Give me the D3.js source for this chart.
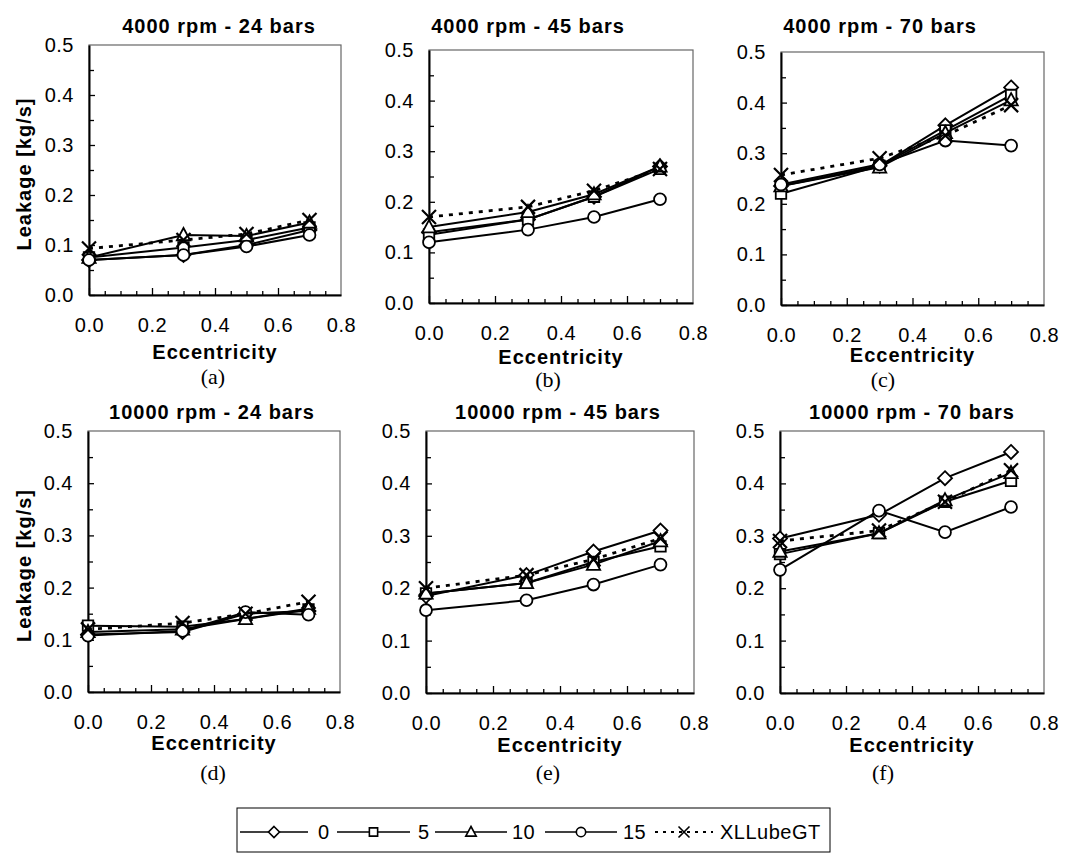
<!DOCTYPE html>
<html>
<head>
<meta charset="utf-8">
<script src="https://d3js.org/d3.v7.min.js"></script>
<style>
  body { margin: 0; background: #fff; }
  text { font-family: "Liberation Sans", Arial, sans-serif; fill: #000; }
</style>
</head>
<body>
<script>
// eccentricity values where leakage was measured
var eccentricity = [0, 0.3, 0.5, 0.7];

var seriesNames = ["0", "5", "10", "15", "XLLubeGT"];
var panelTitles = ["4000 rpm - 24 bars", "4000 rpm - 45 bars", "4000 rpm - 70 bars",
                   "10000 rpm - 24 bars", "10000 rpm - 45 bars", "10000 rpm - 70 bars"];
var captions = ["(a)", "(b)", "(c)", "(d)", "(e)", "(f)"];
var xTicks = [0, 0.2, 0.4, 0.6, 0.8];
var yTicks = [0, 0.1, 0.2, 0.3, 0.4, 0.5];

// leakage [kg/s], one row per panel (a..f)
var leak0 = [
  [0.070, 0.080, 0.100, 0.130],
  [0.140, 0.165, 0.210, 0.270],
  [0.235, 0.275, 0.355, 0.430],
  [0.110, 0.115, 0.150, 0.155],
  [0.185, 0.225, 0.270, 0.310],
  [0.295, 0.340, 0.410, 0.460]
];
var leak5 = [
  [0.075, 0.095, 0.110, 0.135],
  [0.135, 0.165, 0.210, 0.265],
  [0.220, 0.275, 0.345, 0.415],
  [0.127, 0.125, 0.140, 0.158],
  [0.190, 0.210, 0.250, 0.280],
  [0.265, 0.305, 0.365, 0.405]
];
var leak10 = [
  [0.075, 0.120, 0.118, 0.145],
  [0.150, 0.180, 0.215, 0.270],
  [0.235, 0.272, 0.340, 0.405],
  [0.115, 0.120, 0.140, 0.160],
  [0.190, 0.210, 0.245, 0.290],
  [0.270, 0.305, 0.368, 0.420]
];
var leak15 = [
  [0.070, 0.080, 0.097, 0.120],
  [0.120, 0.145, 0.170, 0.205],
  [0.238, 0.278, 0.325, 0.315],
  [0.108, 0.117, 0.153, 0.148],
  [0.158, 0.177, 0.207, 0.245],
  [0.235, 0.348, 0.307, 0.355]
];
var leakXL = [
  [0.093, 0.110, 0.122, 0.150],
  [0.170, 0.190, 0.222, 0.265],
  [0.257, 0.290, 0.335, 0.395],
  [0.120, 0.132, 0.150, 0.173],
  [0.200, 0.225, 0.255, 0.295],
  [0.290, 0.310, 0.365, 0.425]
];

var allSeries = [leak0, leak5, leak10, leak15, leakXL];
var markers = ["diamond", "square", "triangle", "circle", "cross"];

// panel layout: plot box, title centre, caption centre
var panels = [
  {x: 89,  y: 45,  w: 252, h: 250, tx: 219, ty: 26,  cx: 213, cy: 377, ey: 352, ylab: true},
  {x: 429, y: 50,  w: 264, h: 253, tx: 528, ty: 26,  cx: 548, cy: 380, ey: 357, ylab: false},
  {x: 781, y: 52,  w: 263, h: 253, tx: 880, ty: 26,  cx: 883, cy: 380, ey: 355, ylab: false},
  {x: 88,  y: 431, w: 252, h: 261, tx: 212, ty: 412, cx: 213, cy: 773, ey: 743, ylab: true},
  {x: 426, y: 431, w: 268, h: 262, tx: 558, ty: 412, cx: 548, cy: 773, ey: 745, ylab: false},
  {x: 780, y: 431, w: 264, h: 262, tx: 912, ty: 412, cx: 883, cy: 773, ey: 745, ylab: false}
];

var svg = d3.select("body")
  .append("svg")
  .attr("width", 1066)
  .attr("height", 855);

function markerPath(type, s) {
  if (type === "diamond")
    return `M0,${-s}L${s},0L0,${s}L${-s},0Z`;
  if (type === "square") {
    var q = s * 0.75;
    return `M${-q},${-q}H${q}V${q}H${-q}Z`;
  }
  if (type === "triangle")
    return `M0,${-s}L${s * 0.95},${s * 0.75}L${-s * 0.95},${s * 0.75}Z`;
  if (type === "circle") {
    var r = s * 0.85;
    return `M${r},0A${r},${r} 0 1,1 ${-r},0A${r},${r} 0 1,1 ${r},0Z`;
  }
  return `M${-s},${-s}L${s},${s}M${-s},${s}L${s},${-s}`;
}

var minorX = d3.range(1, 16).map(i => i * 0.05).filter(v => Math.round(v * 100) % 20 !== 0);
var minorY = [0.05, 0.15, 0.25, 0.35, 0.45];

panels.forEach(function(p, pi) {
  var xScale = d3.scaleLinear().domain([0, 0.8]).range([p.x, p.x + p.w]);
  var yScale = d3.scaleLinear().domain([0, 0.5]).range([p.y + p.h, p.y]);

  var g = svg.append("g");

  // thin grey frame
  g.append("rect")
    .attr("x", p.x).attr("y", p.y)
    .attr("width", p.w).attr("height", p.h)
    .attr("fill", "none")
    .attr("stroke", "#666")
    .attr("stroke-width", 1.2);

  // minor ticks
  var xMinor = g.append("g")
    .attr("transform", `translate(0, ${p.y + p.h})`)
    .call(d3.axisBottom(xScale).tickValues(minorX).tickSize(-4).tickFormat(""));
  xMinor.select(".domain").remove();
  var yMinor = g.append("g")
    .attr("transform", `translate(${p.x}, 0)`)
    .call(d3.axisLeft(yScale).tickValues(minorY).tickSize(-5).tickFormat(""));
  yMinor.select(".domain").remove();

  // major axes
  var xAxis = g.append("g")
    .attr("transform", `translate(0, ${p.y + p.h})`)
    .call(d3.axisBottom(xScale).tickValues(xTicks).tickSize(-7).tickSizeOuter(0)
      .tickPadding(23).tickFormat(d3.format(".1f")));
  var yAxis = g.append("g")
    .attr("transform", `translate(${p.x}, 0)`)
    .call(d3.axisLeft(yScale).tickValues(yTicks).tickSize(-6).tickSizeOuter(0)
      .tickPadding(15).tickFormat(d3.format(".1f")));

  [xAxis, yAxis, xMinor, yMinor].forEach(function(a) {
    a.attr("font-size", null).attr("font-family", null);
    a.selectAll(".tick line").attr("stroke", "#000").attr("stroke-width", 1.3);
    a.selectAll(".tick text")
      .style("font-size", "20px")
      .style("letter-spacing", "0.5px");
  });
  xAxis.select(".tick:last-of-type line").remove();
  yAxis.select(".tick:last-of-type line").remove();
  xAxis.select(".domain").attr("stroke", "#000").attr("stroke-width", 2);
  yAxis.select(".domain").attr("stroke", "#000").attr("stroke-width", 2);

  // series lines and markers
  var line = d3.line()
    .x((d, i) => xScale(eccentricity[i]))
    .y(d => yScale(d));

  allSeries.forEach(function(series, si) {
    var vals = series[pi];
    var dashed = si === 4;
    g.append("path")
      .datum(vals)
      .attr("d", line)
      .attr("fill", "none")
      .attr("stroke", "#000")
      .attr("stroke-width", dashed ? 2.8 : 2)
      .attr("stroke-dasharray", dashed ? "4,6" : null);

    g.selectAll(null)
      .data(vals)
      .enter()
      .append("path")
      .attr("transform", (d, i) => `translate(${xScale(eccentricity[i])}, ${yScale(d)})`)
      .attr("d", markerPath(markers[si], 7))
      .attr("fill", si === 4 ? "none" : "#fff")
      .attr("stroke", "#000")
      .attr("stroke-width", si === 4 ? 2.2 : 1.8);
  });

  // titles and labels
  g.append("text")
    .attr("x", p.tx).attr("y", p.ty + 7)
    .attr("text-anchor", "middle")
    .style("font-size", "20px").style("font-weight", "bold")
    .style("letter-spacing", "1px")
    .text(panelTitles[pi]);

  g.append("text")
    .attr("x", p.x + p.w / 2).attr("y", p.ey + 7)
    .attr("text-anchor", "middle")
    .style("font-size", "20px").style("font-weight", "bold")
    .style("letter-spacing", "1px")
    .text("Eccentricity");

  g.append("text")
    .attr("x", p.cx).attr("y", p.cy + 7)
    .attr("text-anchor", "middle")
    .style("font-family", "'Liberation Serif', 'Times New Roman', serif")
    .style("font-size", "22px")
    .text(captions[pi]);

  if (p.ylab) {
    g.append("text")
      .attr("transform", `translate(31, ${p.y + p.h / 2 + 4}) rotate(-90)`)
      .attr("text-anchor", "middle")
      .style("font-size", "20px").style("font-weight", "bold")
      .style("letter-spacing", "1px")
      .text("Leakage [kg/s]");
  }
});

// legend
var legend = svg.append("g");
legend.append("rect")
  .attr("x", 237).attr("y", 808)
  .attr("width", 593).attr("height", 44)
  .attr("fill", "#fff")
  .attr("stroke", "#000")
  .attr("stroke-width", 1);

var legendStart = [240, 337, 435, 545, 655];
var legendEnd = [308, 410, 507, 617, 713];
var legendText = [318, 418, 512, 623, 720];
var ly = 832;

seriesNames.forEach(function(name, si) {
  var dashed = si === 4;
  legend.append("line")
    .attr("x1", legendStart[si]).attr("x2", legendEnd[si])
    .attr("y1", ly).attr("y2", ly)
    .attr("stroke", "#000")
    .attr("stroke-width", dashed ? 2 : 1.5)
    .attr("stroke-dasharray", dashed ? "3,5" : null);
  legend.append("path")
    .attr("transform", `translate(${(legendStart[si] + legendEnd[si]) / 2}, ${ly})`)
    .attr("d", markerPath(markers[si], 5.5))
    .attr("fill", dashed ? "none" : "#fff")
    .attr("stroke", "#000")
    .attr("stroke-width", 1.6);
  legend.append("text")
    .attr("x", legendText[si]).attr("y", ly + 7)
    .style("font-size", "20px")
    .style("letter-spacing", "0.5px")
    .text(name);
});
</script>
</body>
</html>
